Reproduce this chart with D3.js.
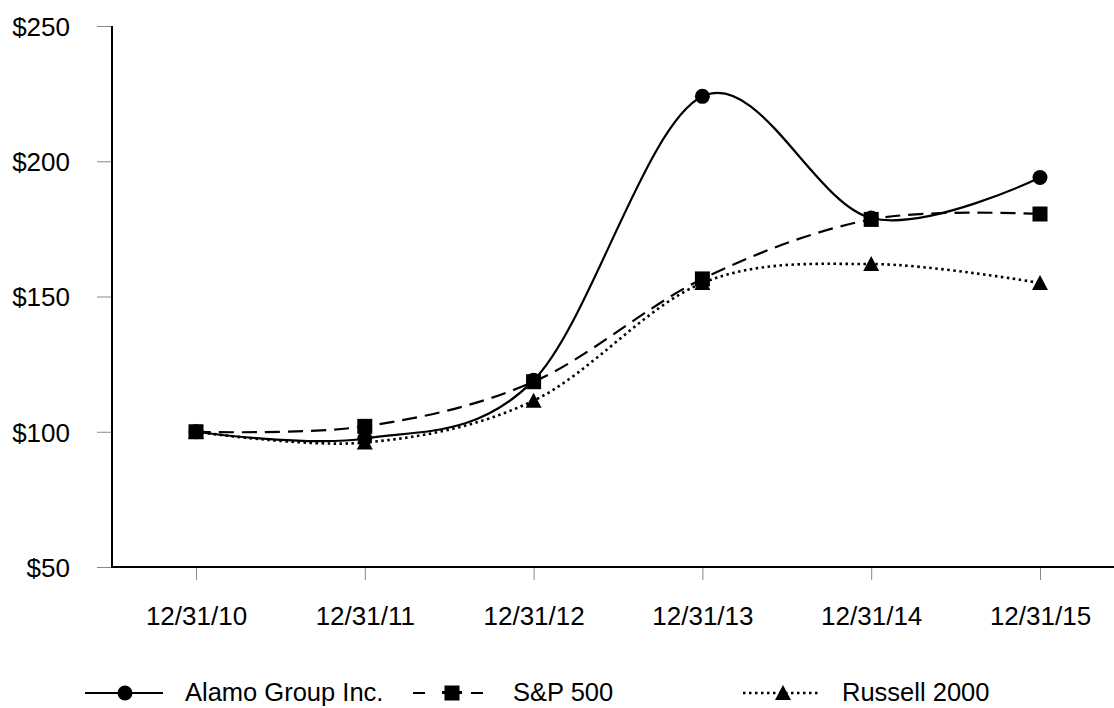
<!DOCTYPE html>
<html><head><meta charset="utf-8">
<script src="https://cdn.jsdelivr.net/npm/d3@7"></script>
<style>body{margin:0;background:#fff;} svg{display:block;} text{font-family:"Liberation Sans",Arial,sans-serif;fill:#000;}</style>
</head><body>
<svg id="c" width="1114" height="708"></svg>
<script>
const categories = ["12/31/10","12/31/11","12/31/12","12/31/13","12/31/14","12/31/15"];
const alamo = [100, 97.5, 119, 224, 179, 194];
const sp500 = [100, 102, 118.5, 156.5, 178.5, 180.5];
const russell = [100, 96, 111.5, 155, 162, 155];
const yTicks = [50, 100, 150, 200, 250];
const seriesNames = ["Alamo Group Inc.", "S&P 500", "Russell 2000"];

const svg = d3.select("#c");
const x = d3.scalePoint().domain(categories).range([196, 1040]);
const y = d3.scaleLinear().domain([50, 250]).range([567, 26]);

const yAxis = d3.axisLeft(y).tickValues(yTicks).tickSize(15).tickPadding(27).tickFormat(d => "$" + d);
const gy = svg.append("g").attr("transform", "translate(112,0)").call(yAxis);
gy.select(".domain").remove();
gy.selectAll(".tick line").attr("stroke", "#888").attr("stroke-width", 1);
gy.selectAll(".tick text").style("font-size", "26px").attr("dy", "0.36em");
gy.attr("font-size", null).attr("font-family", null);

const xAxis = d3.axisBottom(x).tickSize(13);
const gx = svg.append("g").attr("transform", "translate(0,567)").call(xAxis);
gx.select(".domain").remove();
gx.attr("font-size", null).attr("font-family", null);
gx.selectAll(".tick line").attr("stroke", "#888").attr("stroke-width", 1);
gx.selectAll(".tick text").style("font-size", "26px").attr("y", 58).attr("dy", null);

svg.append("line").attr("x1", 112).attr("x2", 112).attr("y1", y(250)).attr("y2", y(50)).attr("stroke", "#000").attr("stroke-width", 2);
svg.append("line").attr("x1", 111).attr("x2", 1114).attr("y1", y(50)).attr("y2", y(50)).attr("stroke", "#000").attr("stroke-width", 2);

const line = d3.line().x((d, i) => x(categories[i])).y(d => y(d)).curve(d3.curveCatmullRom.alpha(0));

const styles = [
  {data: alamo, dash: null, marker: "circle", w: 2.2},
  {data: sp500, dash: "15,8", marker: "square", w: 2.2},
  {data: russell, dash: "2.5,3.5", marker: "triangle", w: 2.6}
];

function drawMarker(g, type, cx, cy) {
  if (type === "circle") g.append("circle").attr("cx", cx).attr("cy", cy).attr("r", 7.5).attr("fill", "#000");
  else if (type === "square") g.append("rect").attr("x", cx - 7.5).attr("y", cy - 7.5).attr("width", 15).attr("height", 15).attr("fill", "#000");
  else g.append("path").attr("d", `M${cx},${cy-8}L${cx+8},${cy+7}L${cx-8},${cy+7}Z`).attr("fill", "#000");
}

[2,1,0].forEach(k => {
  const s = styles[k];
  svg.append("path").attr("d", line(s.data)).attr("fill", "none").attr("stroke", "#000").attr("stroke-width", s.w)
    .attr("stroke-dasharray", s.dash);
  const g = svg.append("g");
  s.data.forEach((v, i) => drawMarker(g, s.marker, x(categories[i]), y(v)));
});

// legend
const ly = 693;
const legend = [
  {x1: 85, x2: 163, mx: 125, tx: 185, dash: null},
  {x1: 413, x2: 493, mx: 452, tx: 513, dash: "12,17"},
  {x1: 743, x2: 818, mx: 783, tx: 842, dash: "2.5,3.5"}
];
legend.forEach((L, k) => {
  const s = styles[k];
  const g = svg.append("g");
  g.append("line").attr("x1", L.x1).attr("x2", L.x2).attr("y1", ly).attr("y2", ly).attr("stroke", "#000").attr("stroke-width", s.w).attr("stroke-dasharray", L.dash);
  if (s.marker === "square") g.append("rect").attr("x", L.mx - 10).attr("y", ly - 2).attr("width", 20).attr("height", 3).attr("fill", "#000");
  drawMarker(g, s.marker, L.mx, ly);
  g.append("text").attr("x", L.tx).attr("y", 701).style("font-size", "25.5px").text(seriesNames[k]);
});
</script>
</body></html>
